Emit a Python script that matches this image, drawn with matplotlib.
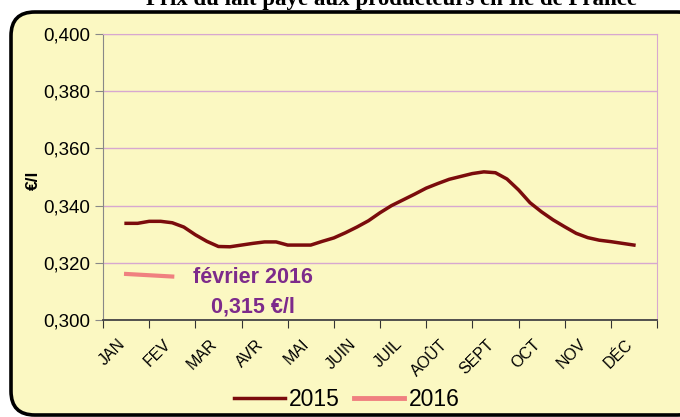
import numpy as np
import matplotlib.pyplot as plt
import matplotlib.transforms as mtransforms
from matplotlib.patches import FancyBboxPatch
from matplotlib.lines import Line2D

plt.rcParams['font.family'] = ['Liberation Sans', 'DejaVu Sans']

months = ["JAN", "FEV", "MAR", "AVR", "MAI", "JUIN", "JUIL", "AOÛT", "SEPT", "OCT", "NOV", "DÉC"]

# weekly prices 2015 (4 points per month, JAN -> DÉC)
prix_2015 = [0.3338, 0.3338, 0.3345, 0.3345, 0.3340, 0.3325, 0.3298, 0.3275,
             0.3257, 0.3256, 0.3262, 0.3268, 0.3273, 0.3273, 0.3262, 0.3262,
             0.3262, 0.3275, 0.3287, 0.3305, 0.3325, 0.3347, 0.3375, 0.3400,
             0.3420, 0.3440, 0.3461, 0.3477, 0.3492, 0.3502, 0.3512, 0.3518,
             0.3515, 0.3493, 0.3455, 0.3410, 0.3378, 0.3350, 0.3326, 0.3303,
             0.3288, 0.3279, 0.3274, 0.3268, 0.3262]
prix_2016 = [0.3161, 0.3152]

bg = "#fbf8c2"
fig = plt.figure(figsize=(6.8, 4.17), dpi=100, facecolor="white")

# rounded frame
frame = FancyBboxPatch((11 / 680, 2 / 417), 690 / 680, 403 / 417,
                       boxstyle="round,pad=0,rounding_size=0.035",
                       transform=fig.transFigure, facecolor=bg,
                       edgecolor="black", linewidth=2.6, zorder=-5,
                       mutation_aspect=680 / 417)
fig.patches.append(frame)

fig.text(392 / 680, 1.0, "Prix du lait payé aux producteurs en Ile de France",
         ha="center", va="center", fontsize=16.5, fontweight="bold",
         family="Liberation Serif")

ax = fig.add_axes([103 / 680, 1 - 320 / 417, 554 / 680, 286 / 417])
ax.set_facecolor(bg)

x15 = 0.5 + np.arange(len(prix_2015)) * 11 / (len(prix_2015) - 1)
x16 = 0.5 + np.arange(len(prix_2016))
ax.plot(x15, prix_2015, color="#7b0c0c", lw=2.5, zorder=3)
ax.plot(x16, prix_2016, color="#f08080", lw=3, zorder=3)

ax.set_xlim(0, 12)
ax.set_ylim(0.300, 0.400)
yt = np.arange(0.300, 0.4001, 0.020)
ax.set_yticks(yt)
ax.set_yticklabels([f"{v:.3f}".replace(".", ",") for v in yt], fontsize=13.5)
ax.set_xticks(np.arange(0, 13))
ax.set_xticklabels([])
ax.set_xticks(np.arange(12) + 0.5, minor=True)
ax.set_xticklabels(months, minor=True, rotation=45, ha="right", va="top",
                   rotation_mode="anchor", fontsize=11.5)
ax.tick_params(axis="x", which="minor", length=0, pad=12)
ax.tick_params(axis="x", which="major", length=6, color="#333333", direction="out")
ax.tick_params(axis="y", length=6, color="#888888", direction="out", pad=3)

shift = mtransforms.ScaledTranslation(-9 / 100, 0, fig.dpi_scale_trans)
for lab in ax.get_xticklabels(minor=True):
    lab.set_transform(lab.get_transform() + shift)

ax.grid(axis="y", color="#d7a8d0", lw=1.0)
for s in ("top", "right"):
    ax.spines[s].set_color("#d7a8d0")
ax.spines["left"].set_color("#888888")
ax.spines["bottom"].set_color("#444444")
ax.spines["bottom"].set_linewidth(1.3)

ax.set_ylabel("€/l", fontsize=12.5, fontweight="bold")
ax.yaxis.set_label_coords(-0.112, 0.49)

ax.text(3.25, 0.3150, "février 2016", color="#7d2b8b", fontsize=15.5,
        fontweight="bold", ha="center", va="center")
ax.text(3.25, 0.3045, "0,315 €/l", color="#7d2b8b", fontsize=15.5,
        fontweight="bold", ha="center", va="center")

handles = [Line2D([], [], color="#7b0c0c", lw=2.5),
           Line2D([], [], color="#f08080", lw=3.5)]
fig.legend(handles, ["2015", "2016"], loc="center", bbox_to_anchor=(347 / 680, 1 - 400 / 417),
           ncol=2, frameon=False, fontsize=16.5, handlelength=2.2,
           handletextpad=0.2, columnspacing=0.6)

fig.savefig("out.png", dpi=100, facecolor="white")
